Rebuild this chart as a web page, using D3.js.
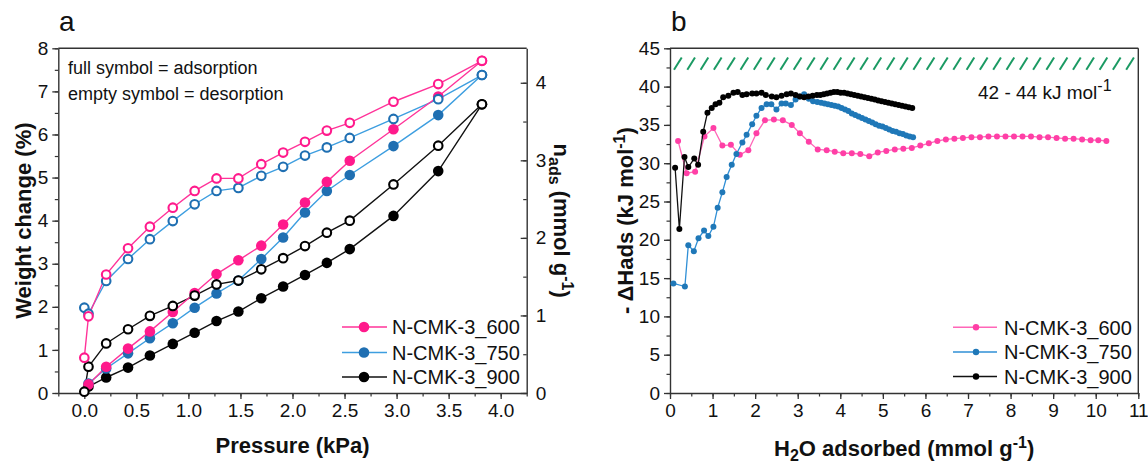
<!DOCTYPE html>
<html><head><meta charset="utf-8">
<script src="https://cdn.jsdelivr.net/npm/d3@7"></script>
<style>
body{margin:0;background:#fff}
text{font-family:"Liberation Sans",Arial,sans-serif;fill:#111}
</style>
</head><body>
<svg id="c" width="1148" height="464"></svg>
<script>
// ---------- Panel a data ----------
const pressureDes = [0.00,0.04,0.21,0.42,0.63,0.85,1.06,1.27,1.48,1.70,1.91,2.12,2.33,2.55,2.97,3.40,3.82];
const pressureAds = [0.04,0.21,0.42,0.63,0.85,1.06,1.27,1.48,1.70,1.91,2.12,2.33,2.55,2.97,3.40,3.82];
const ads600 = [0.20,0.61,1.03,1.43,1.88,2.32,2.76,3.08,3.42,3.91,4.42,4.90,5.39,6.12,6.88,7.71];
const ads750 = [0.22,0.57,0.92,1.27,1.62,1.98,2.31,2.61,3.11,3.61,4.19,4.69,5.06,5.73,6.45,7.38];
const ads900 = [0.15,0.36,0.59,0.87,1.14,1.40,1.67,1.89,2.20,2.47,2.74,3.02,3.34,4.11,5.15,6.70];
const des600 = [0.82,1.78,2.75,3.36,3.86,4.30,4.69,4.98,4.98,5.31,5.58,5.83,6.09,6.27,6.76,7.17,7.71];
const des750 = [1.98,1.84,2.60,3.11,3.57,3.99,4.38,4.69,4.76,5.04,5.25,5.51,5.70,5.92,6.36,6.82,7.38];
const des900 = [0.03,0.61,1.15,1.48,1.79,2.02,2.26,2.52,2.61,2.87,3.13,3.41,3.72,4.00,4.84,5.74,6.70];
const seriesNames = ["N-CMK-3_600","N-CMK-3_750","N-CMK-3_900"];
const aXTicks = [0,0.5,1,1.5,2,2.5,3,3.5,4];
const aYTicks = [0,1,2,3,4,5,6,7,8];
const aYRTicks = [0,1,2,3,4];

// ---------- Panel b data ----------
const x600 = [0.19,0.39,0.59,0.81,1.02,1.23,1.43,1.64,1.84,2.03,2.23,2.44,2.65,2.86,3.05,3.26,3.47,3.68,3.87,4.07,4.27,4.47,4.68,4.88,5.08,5.28,5.48,5.68,5.88,6.08,6.28,6.48,6.68,6.88,7.08,7.28,7.48,7.68,7.88,8.08,8.28,8.48,8.68,8.88,9.08,9.28,9.48,9.68,9.88,10.06,10.25];
const h600 = [32.9,28.7,28.9,33.5,34.6,32.3,32.4,31.1,31.7,33.9,35.6,35.7,35.6,35.0,33.9,32.8,31.8,31.7,31.5,31.3,31.3,31.2,30.9,31.4,31.6,31.8,31.9,32.0,32.3,32.6,32.9,33.1,33.2,33.3,33.4,33.4,33.5,33.5,33.5,33.5,33.5,33.5,33.4,33.4,33.3,33.2,33.2,33.1,33.0,33.0,32.9];
const x750 = [0.08,0.35,0.43,0.56,0.67,0.80,0.90,1.02,1.12,1.23,1.33,1.45,1.56,1.70,1.80,1.93,2.03,2.15,2.27,2.38,2.50,2.62,2.72,2.84,2.95,3.05,3.15,3.26,3.36,3.46,3.55,3.63,3.71,3.79,3.87,3.95,4.03,4.11,4.19,4.27,4.35,4.43,4.51,4.59,4.67,4.75,4.83,4.91,4.99,5.07,5.15,5.23,5.31,5.39,5.47,5.55,5.63,5.71];
const h750 = [14.3,13.9,19.3,18.5,20.2,21.2,20.5,21.7,24.2,26.2,28.2,29.8,31.2,32.7,33.7,35.1,36.2,37.2,37.7,37.7,37.0,37.8,37.8,37.6,38.3,38.7,39.0,38.4,38.1,38.0,37.9,37.8,37.7,37.6,37.5,37.4,37.2,37.0,36.8,36.5,36.3,36.1,35.9,35.7,35.5,35.3,35.1,34.9,34.8,34.6,34.4,34.2,34.1,33.9,33.8,33.6,33.5,33.4];
const x900 = [0.12,0.22,0.34,0.43,0.57,0.66,0.78,0.88,0.98,1.07,1.16,1.25,1.37,1.49,1.59,1.70,1.80,1.93,2.03,2.15,2.25,2.39,2.50,2.62,2.74,2.84,2.95,3.05,3.15,3.25,3.35,3.45,3.53,3.61,3.69,3.77,3.85,3.93,4.01,4.09,4.17,4.25,4.33,4.41,4.49,4.57,4.65,4.73,4.81,4.89,4.97,5.05,5.13,5.21,5.29,5.37,5.45,5.53,5.61,5.69];
const h900 = [29.4,21.4,30.8,29.5,30.6,29.8,34.1,36.6,37.2,37.7,37.9,38.6,38.8,39.2,39.3,38.9,39.0,39.1,39.1,39.2,38.9,38.7,38.6,38.8,39.0,39.1,38.9,38.7,38.6,38.7,38.8,38.9,38.9,39.0,39.1,39.2,39.3,39.3,39.2,39.2,39.1,39.0,38.9,38.8,38.7,38.6,38.5,38.4,38.3,38.2,38.1,38.0,37.9,37.8,37.7,37.6,37.5,37.4,37.3,37.2];
const hatchBand = [42, 44];
const bXTicks = [0,1,2,3,4,5,6,7,8,9,10,11];
const bYTicks = [0,5,10,15,20,25,30,35,40,45];

const svg = d3.select("#c");
svg.append("rect").attr("width",1148).attr("height",464).attr("fill","#fff");
const axisColor = "#333";

function styleAxis(g, fs){
  g.select(".domain").attr("stroke", axisColor).attr("stroke-width", 1.4);
  g.selectAll(".tick line").attr("stroke", axisColor).attr("stroke-width", 1.3);
  g.selectAll(".tick text").style("font-size", fs+"px").attr("fill","#222")
   .style("font-family",'"Liberation Sans",Arial,sans-serif');
}
function minor(g, axisGen){
  g.call(axisGen);
  g.select(".domain").remove();
  g.selectAll(".tick line").attr("stroke", axisColor).attr("stroke-width", 1.2);
}
function range(a,b,s){const r=[];for(let v=a;v<=b+1e-9;v+=s)r.push(+v.toFixed(4));return r;}

// ================= Panel a =================
const L = 58.3, R = 526.7, T = 48.3, B = 393;
const ax = d3.scaleLinear().domain([-0.25,4.25]).range([L,R]);
const ay = d3.scaleLinear().domain([0,8]).range([B,T]);
const ayR = d3.scaleLinear().domain([0,8/1.8]).range([B,T]);

const ga = svg.append("g");
minor(ga.append("g").attr("transform",`translate(0,${B})`),
  d3.axisBottom(ax).tickValues(range(-0.25,4.25,0.25)).tickSize(3.5).tickFormat(""));
minor(ga.append("g").attr("transform",`translate(${L},0)`),
  d3.axisLeft(ay).tickValues(range(0,8,0.5)).tickSize(3.5).tickFormat(""));
minor(ga.append("g").attr("transform",`translate(${R},0)`),
  d3.axisRight(ayR).tickValues(range(0,4.4,0.5)).tickSize(-3.5).tickFormat(""));
const axB = ga.append("g").attr("transform",`translate(0,${B})`)
  .call(d3.axisBottom(ax).tickValues(aXTicks).tickFormat(d3.format(".1f")).tickSize(6).tickSizeOuter(0).tickPadding(5));
styleAxis(axB, 19);
const axL = ga.append("g").attr("transform",`translate(${L},0)`)
  .call(d3.axisLeft(ay).tickValues(aYTicks).tickFormat(d3.format("d")).tickSize(6).tickSizeOuter(0).tickPadding(4));
styleAxis(axL, 19);
const axR = ga.append("g").attr("transform",`translate(${R},0)`)
  .call(d3.axisRight(ayR).tickValues(aYRTicks).tickFormat(d3.format("d")).tickSize(-6).tickSizeOuter(0).tickPadding(9));
styleAxis(axR, 19);
ga.append("line").attr("x1",L).attr("x2",R).attr("y1",T).attr("y2",T).attr("stroke",axisColor).attr("stroke-width",1.4);

const aCols = [
  {m:"#ff1a8c", l:"#ff3399"},
  {m:"#1f6fb2", l:"#3d9ee0"},
  {m:"#000000", l:"#111111"}
];
const adsSets = [ads600, ads750, ads900];
const desSets = [des600, des750, des900];
const lineA = d3.line().x(d=>ax(d[0])).y(d=>ay(d[1]));
const adsPts = adsSets.map(s=>pressureAds.map((p,i)=>[p,s[i]]));
const desPts = desSets.map(s=>pressureDes.map((p,i)=>[p,s[i]]));
for (let k=2;k>=0;k--){
  ga.append("path").attr("d",lineA(adsPts[k])).attr("fill","none").attr("stroke",aCols[k].l).attr("stroke-width",1.4);
  ga.append("path").attr("d",lineA(desPts[k])).attr("fill","none").attr("stroke",aCols[k].l).attr("stroke-width",1.4);
}
for (let k=2;k>=0;k--){
  ga.selectAll(null).data(adsPts[k]).enter().append("circle")
    .attr("cx",d=>ax(d[0])).attr("cy",d=>ay(d[1])).attr("r",5.3).attr("fill",aCols[k].m);
}
for (let k=2;k>=0;k--){
  ga.selectAll(null).data(desPts[k]).enter().append("circle")
    .attr("cx",d=>ax(d[0])).attr("cy",d=>ay(d[1])).attr("r",4.3).attr("fill","#fff")
    .attr("stroke",aCols[k].m).attr("stroke-width",2.1);
}
ga.append("text").attr("x",68).attr("y",74).style("font-size","18px").text("full symbol = adsorption");
ga.append("text").attr("x",68).attr("y",100).style("font-size","18px").text("empty symbol = desorption");
ga.append("text").attr("x",59).attr("y",31).style("font-size","28px").text("a");
const legAY = [327, 352.5, 377];
seriesNames.forEach((n,i)=>{
  ga.append("line").attr("x1",342).attr("x2",387).attr("y1",legAY[i]).attr("y2",legAY[i]).attr("stroke",aCols[i].l).attr("stroke-width",1.4);
  ga.append("circle").attr("cx",364).attr("cy",legAY[i]).attr("r",5.3).attr("fill",aCols[i].m);
  ga.append("text").attr("x",392).attr("y",legAY[i]).attr("dy","0.36em").style("font-size","20px").text(n);
});
ga.append("text").attr("transform",`translate(31,${(T+B)/2}) rotate(-90)`).attr("text-anchor","middle")
  .style("font-size","22px").style("font-weight","bold").text("Weight change (%)");
ga.append("text").attr("x",(L+R)/2).attr("y",453).attr("text-anchor","middle")
  .style("font-size","22px").style("font-weight","bold").text("Pressure (kPa)");
const tR = ga.append("text").attr("transform",`translate(554,${(T+B)/2}) rotate(90)`).attr("text-anchor","middle")
  .style("font-size","22px").style("font-weight","bold");
tR.append("tspan").text("n");
tR.append("tspan").attr("dy",5).style("font-size","16px").text("ads");
tR.append("tspan").attr("dy",-5).text(" (mmol g");
tR.append("tspan").attr("dy",-8).style("font-size","16px").text("-1");
tR.append("tspan").attr("dy",8).text(")");

// ================= Panel b =================
const L2 = 670, R2 = 1138.3;
const bx = d3.scaleLinear().domain([0,11]).range([L2,R2]);
const by = d3.scaleLinear().domain([0,45]).range([B,T]);
const gb = svg.append("g");
const gh = gb.append("g");
const yLo = by(hatchBand[0]+0.2), yHi = by(hatchBand[1]-0.2);
for (let px = bx(0)+4; px < bx(11)-6; px += 13.3){
  gh.append("line").attr("x1",px).attr("y1",yLo).attr("x2",px+7.7).attr("y2",yHi)
    .attr("stroke","#1b9a63").attr("stroke-width",2);
}
minor(gb.append("g").attr("transform",`translate(0,${B})`),
  d3.axisBottom(bx).tickValues(range(0,11,0.5)).tickSize(3.5).tickFormat(""));
minor(gb.append("g").attr("transform",`translate(${L2},0)`),
  d3.axisLeft(by).tickValues(range(0,45,2.5)).tickSize(3.5).tickFormat(""));
const bxB = gb.append("g").attr("transform",`translate(0,${B})`)
  .call(d3.axisBottom(bx).tickValues(bXTicks).tickFormat(d3.format("d")).tickSize(6).tickSizeOuter(0).tickPadding(5));
styleAxis(bxB, 19);
const byL = gb.append("g").attr("transform",`translate(${L2},0)`)
  .call(d3.axisLeft(by).tickValues(bYTicks).tickFormat(d3.format("d")).tickSize(6).tickSizeOuter(0).tickPadding(4));
styleAxis(byL, 19);
gb.append("line").attr("x1",L2).attr("x2",R2).attr("y1",T).attr("y2",T).attr("stroke",axisColor).attr("stroke-width",1.4);
gb.append("line").attr("x1",R2).attr("x2",R2).attr("y1",T).attr("y2",B).attr("stroke",axisColor).attr("stroke-width",1.4);

const bCols = [
  {m:"#ff3fa6", l:"#ff66b8"},
  {m:"#1f78b8", l:"#2f8fd6"},
  {m:"#000000", l:"#111111"}
];
const bSets = [[x600,h600],[x750,h750],[x900,h900]];
const lineB = d3.line().x(d=>bx(d[0])).y(d=>by(d[1]));
bSets.forEach((s,k)=>{
  const pts = s[0].map((x,i)=>[x,s[1][i]]);
  gb.append("path").attr("d",lineB(pts)).attr("fill","none").attr("stroke",bCols[k].l).attr("stroke-width",1.3);
  gb.selectAll(null).data(pts).enter().append("circle")
    .attr("cx",d=>bx(d[0])).attr("cy",d=>by(d[1])).attr("r",3).attr("fill",bCols[k].m);
});
gb.append("text").attr("x",671).attr("y",31).style("font-size","28px").text("b");
const tt = gb.append("text").attr("x",978).attr("y",99).style("font-size","19px");
tt.append("tspan").text("42 - 44 kJ mol");
tt.append("tspan").attr("dy",-8).style("font-size","16px").text("-1");
const legBY = [327.3, 352, 376.5];
seriesNames.forEach((n,i)=>{
  gb.append("line").attr("x1",953).attr("x2",997).attr("y1",legBY[i]).attr("y2",legBY[i]).attr("stroke",bCols[i].l).attr("stroke-width",1.4);
  gb.append("circle").attr("cx",976).attr("cy",legBY[i]).attr("r",3.2).attr("fill",bCols[i].m);
  gb.append("text").attr("x",1004).attr("y",legBY[i]).attr("dy","0.36em").style("font-size","20px").text(n);
});
const tY = gb.append("text").attr("transform",`translate(633,${(T+B)/2}) rotate(-90)`).attr("text-anchor","middle")
  .style("font-size","22px").style("font-weight","bold");
tY.append("tspan").text("- \u0394Hads (kJ mol");
tY.append("tspan").attr("dy",-8).style("font-size","16px").text("-1");
tY.append("tspan").attr("dy",8).text(")");
const tX = gb.append("text").attr("x",(L2+R2)/2).attr("y",456).attr("text-anchor","middle")
  .style("font-size","22px").style("font-weight","bold");
tX.append("tspan").text("H");
tX.append("tspan").attr("dy",5).style("font-size","16px").text("2");
tX.append("tspan").attr("dy",-5).text("O adsorbed (mmol g");
tX.append("tspan").attr("dy",-8).style("font-size","16px").text("-1");
tX.append("tspan").attr("dy",8).text(")");
</script>
</body></html>
